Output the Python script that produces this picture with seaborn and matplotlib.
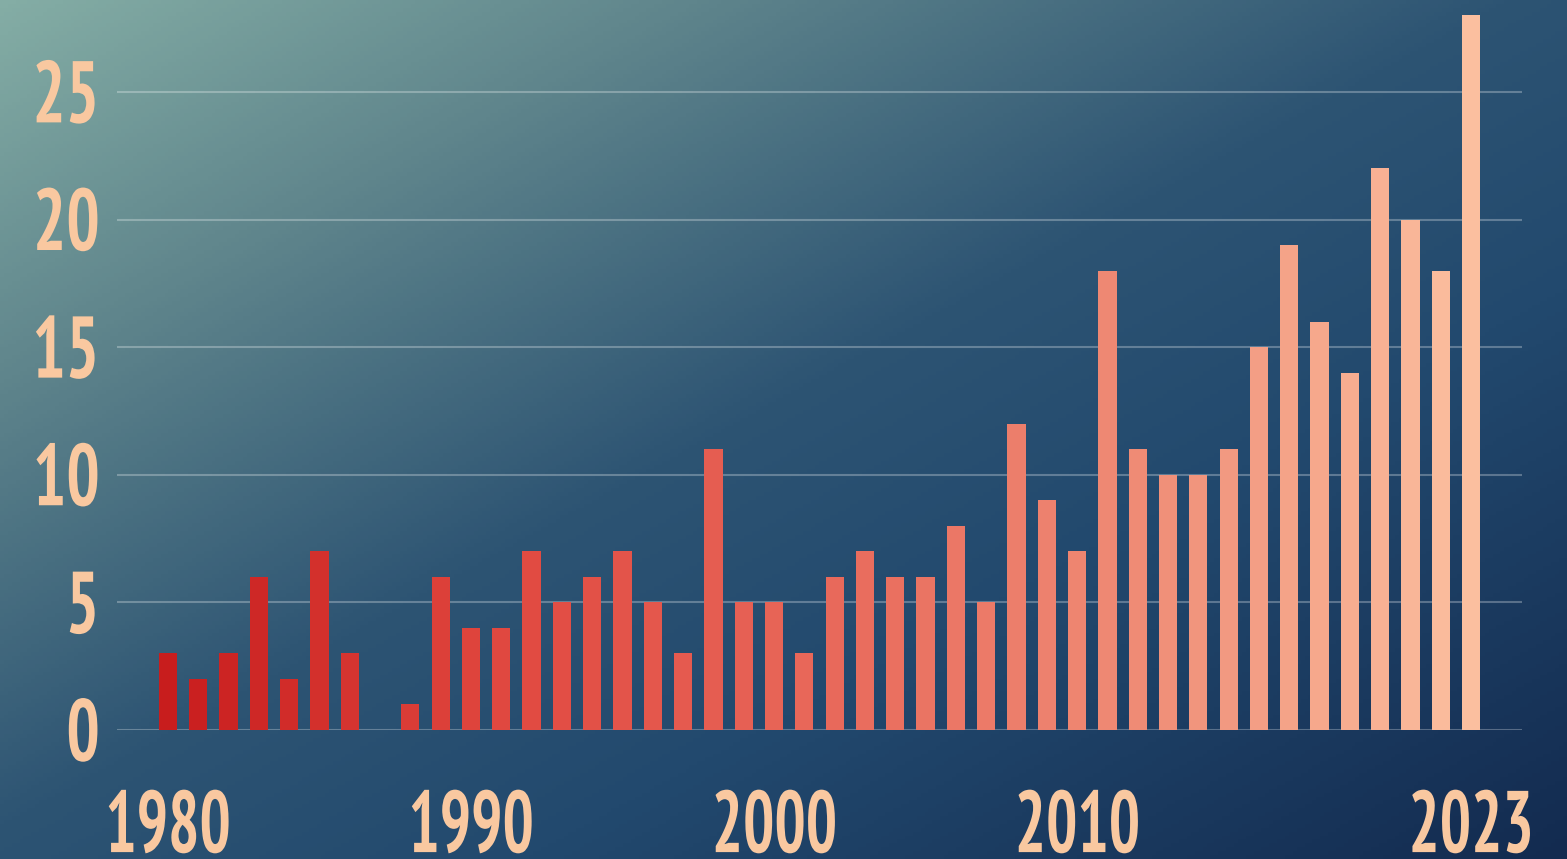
import numpy as np
import pandas as pd
import seaborn as sns
import matplotlib.pyplot as plt
from matplotlib.colors import LinearSegmentedColormap
from matplotlib import font_manager
from matplotlib.patheffects import AbstractPathEffect
from matplotlib.transforms import Affine2D

############# Data ######################
years = list(range(1980, 2024))
counts = [3, 2, 3, 6, 2, 7, 3, 0, 1, 6,
          4, 4, 7, 5, 6, 7, 5, 3, 11, 5,
          5, 3, 6, 7, 6, 6, 8, 5, 12, 9,
          7, 18, 11, 10, 10, 11, 15, 19, 16, 14,
          22, 20, 18, 28]
x_tick_years = [1980, 1990, 2000, 2010, 2023]
y_ticks = [0, 5, 10, 15, 20, 25]

df = pd.DataFrame({'year': [str(y) for y in years], 'count': counts})


class Squeeze(AbstractPathEffect):
    """Narrow the glyphs horizontally (poster style condensed digits)."""
    def __init__(self, sx, anchor='center'):
        super().__init__()
        self.sx = sx
        self.anchor = anchor

    def draw_path(self, renderer, gc, tpath, affine, rgbFace=None):
        bb = tpath.get_extents(affine)
        cx = bb.x1 if self.anchor == 'right' else (bb.x0 + bb.x1) / 2
        tr = affine + Affine2D().translate(-cx, 0).scale(self.sx, 1).translate(cx, 0)
        renderer.draw_path(gc, tpath, tr, rgbFace)


############# Style ######################
sns.set_theme(style='white')

# look for a narrow bold face for the tick labels
cands = []
for f in font_manager.fontManager.ttflist:
    fn = f.fname.lower()
    narrow = ('condensed' in fn or 'narrow' in fn or f.stretch in ('condensed', 'semi-condensed', 'extra-condensed'))
    bold = f.weight in ('bold', 700, 'semibold', 600, 800, 'heavy', 'extra bold') or 'bold' in fn
    if narrow and bold:
        cands.append(f)
cands.sort(key=lambda f: (0 if 'narrow' in f.fname.lower() else 1 if 'roboto' in f.fname.lower() else 2, f.fname))
if cands:
    tick_font = font_manager.FontProperties(fname=cands[0].fname)
    size, sx = 63, 0.75
else:
    tick_font = font_manager.FontProperties(family='DejaVu Sans', weight='bold')
    size, sx = 58, 0.62

label_color = '#f9c8a0'

bar_cmap = LinearSegmentedColormap.from_list('bars', ['#c81d1d', '#e0473f', '#e8685a', '#ef8c76', '#fbbf9f'])
palette = [bar_cmap(i / (len(years) - 1)) for i in range(len(years))]

bg_cmap = LinearSegmentedColormap.from_list(
    'bg', [(0.0, '#84ada5'), (0.22, '#5f858c'), (0.48, '#2d5473'),
           (0.67, '#22496e'), (1.0, '#132b50')])

fig = plt.figure(figsize=(15.67, 8.59), dpi=100)

# gradient background
bg = fig.add_axes([0, 0, 1, 1], zorder=-1)
gx, gy = np.meshgrid(np.linspace(0, 1, 400), np.linspace(0, 1, 220))
bg.imshow((gx + gy) / 2, cmap=bg_cmap, aspect='auto', extent=(0, 1, 1, 0))
bg.axis('off')

ax = fig.add_axes([117 / 1567, 129 / 859, (1522 - 117) / 1567, 730 / 859])
ax.set_facecolor('none')

sns.barplot(data=df, x='year', y='count', hue='year', palette=palette,
            legend=False, width=0.6, saturation=1, linewidth=0, ax=ax, zorder=3)

ax.set_xlim(-1.68, len(years) - 1 + 1.68)
ax.set_ylim(0, 28.6)
ax.set_yticks(y_ticks)
ax.set_xticks([years.index(y) for y in x_tick_years])
ax.set_xlabel('')
ax.set_ylabel('')

ax.set_yticklabels([str(v) for v in y_ticks], fontproperties=tick_font, size=size)
ax.set_xticklabels([str(y) for y in x_tick_years], fontproperties=tick_font, size=size)
for lbl in ax.get_xticklabels():
    lbl.set_path_effects([Squeeze(sx)])
for lbl in ax.get_yticklabels():
    lbl.set_path_effects([Squeeze(sx + 0.05, anchor='right')])

ax.yaxis.grid(True, color='white', alpha=0.28, linewidth=1.5)
ax.set_axisbelow(True)
for s in ax.spines.values():
    s.set_visible(False)

ax.tick_params(axis='y', length=0, pad=12, labelcolor=label_color)
ax.tick_params(axis='x', length=0, pad=44, labelcolor=label_color)

fig.savefig('out.png', dpi=100)
